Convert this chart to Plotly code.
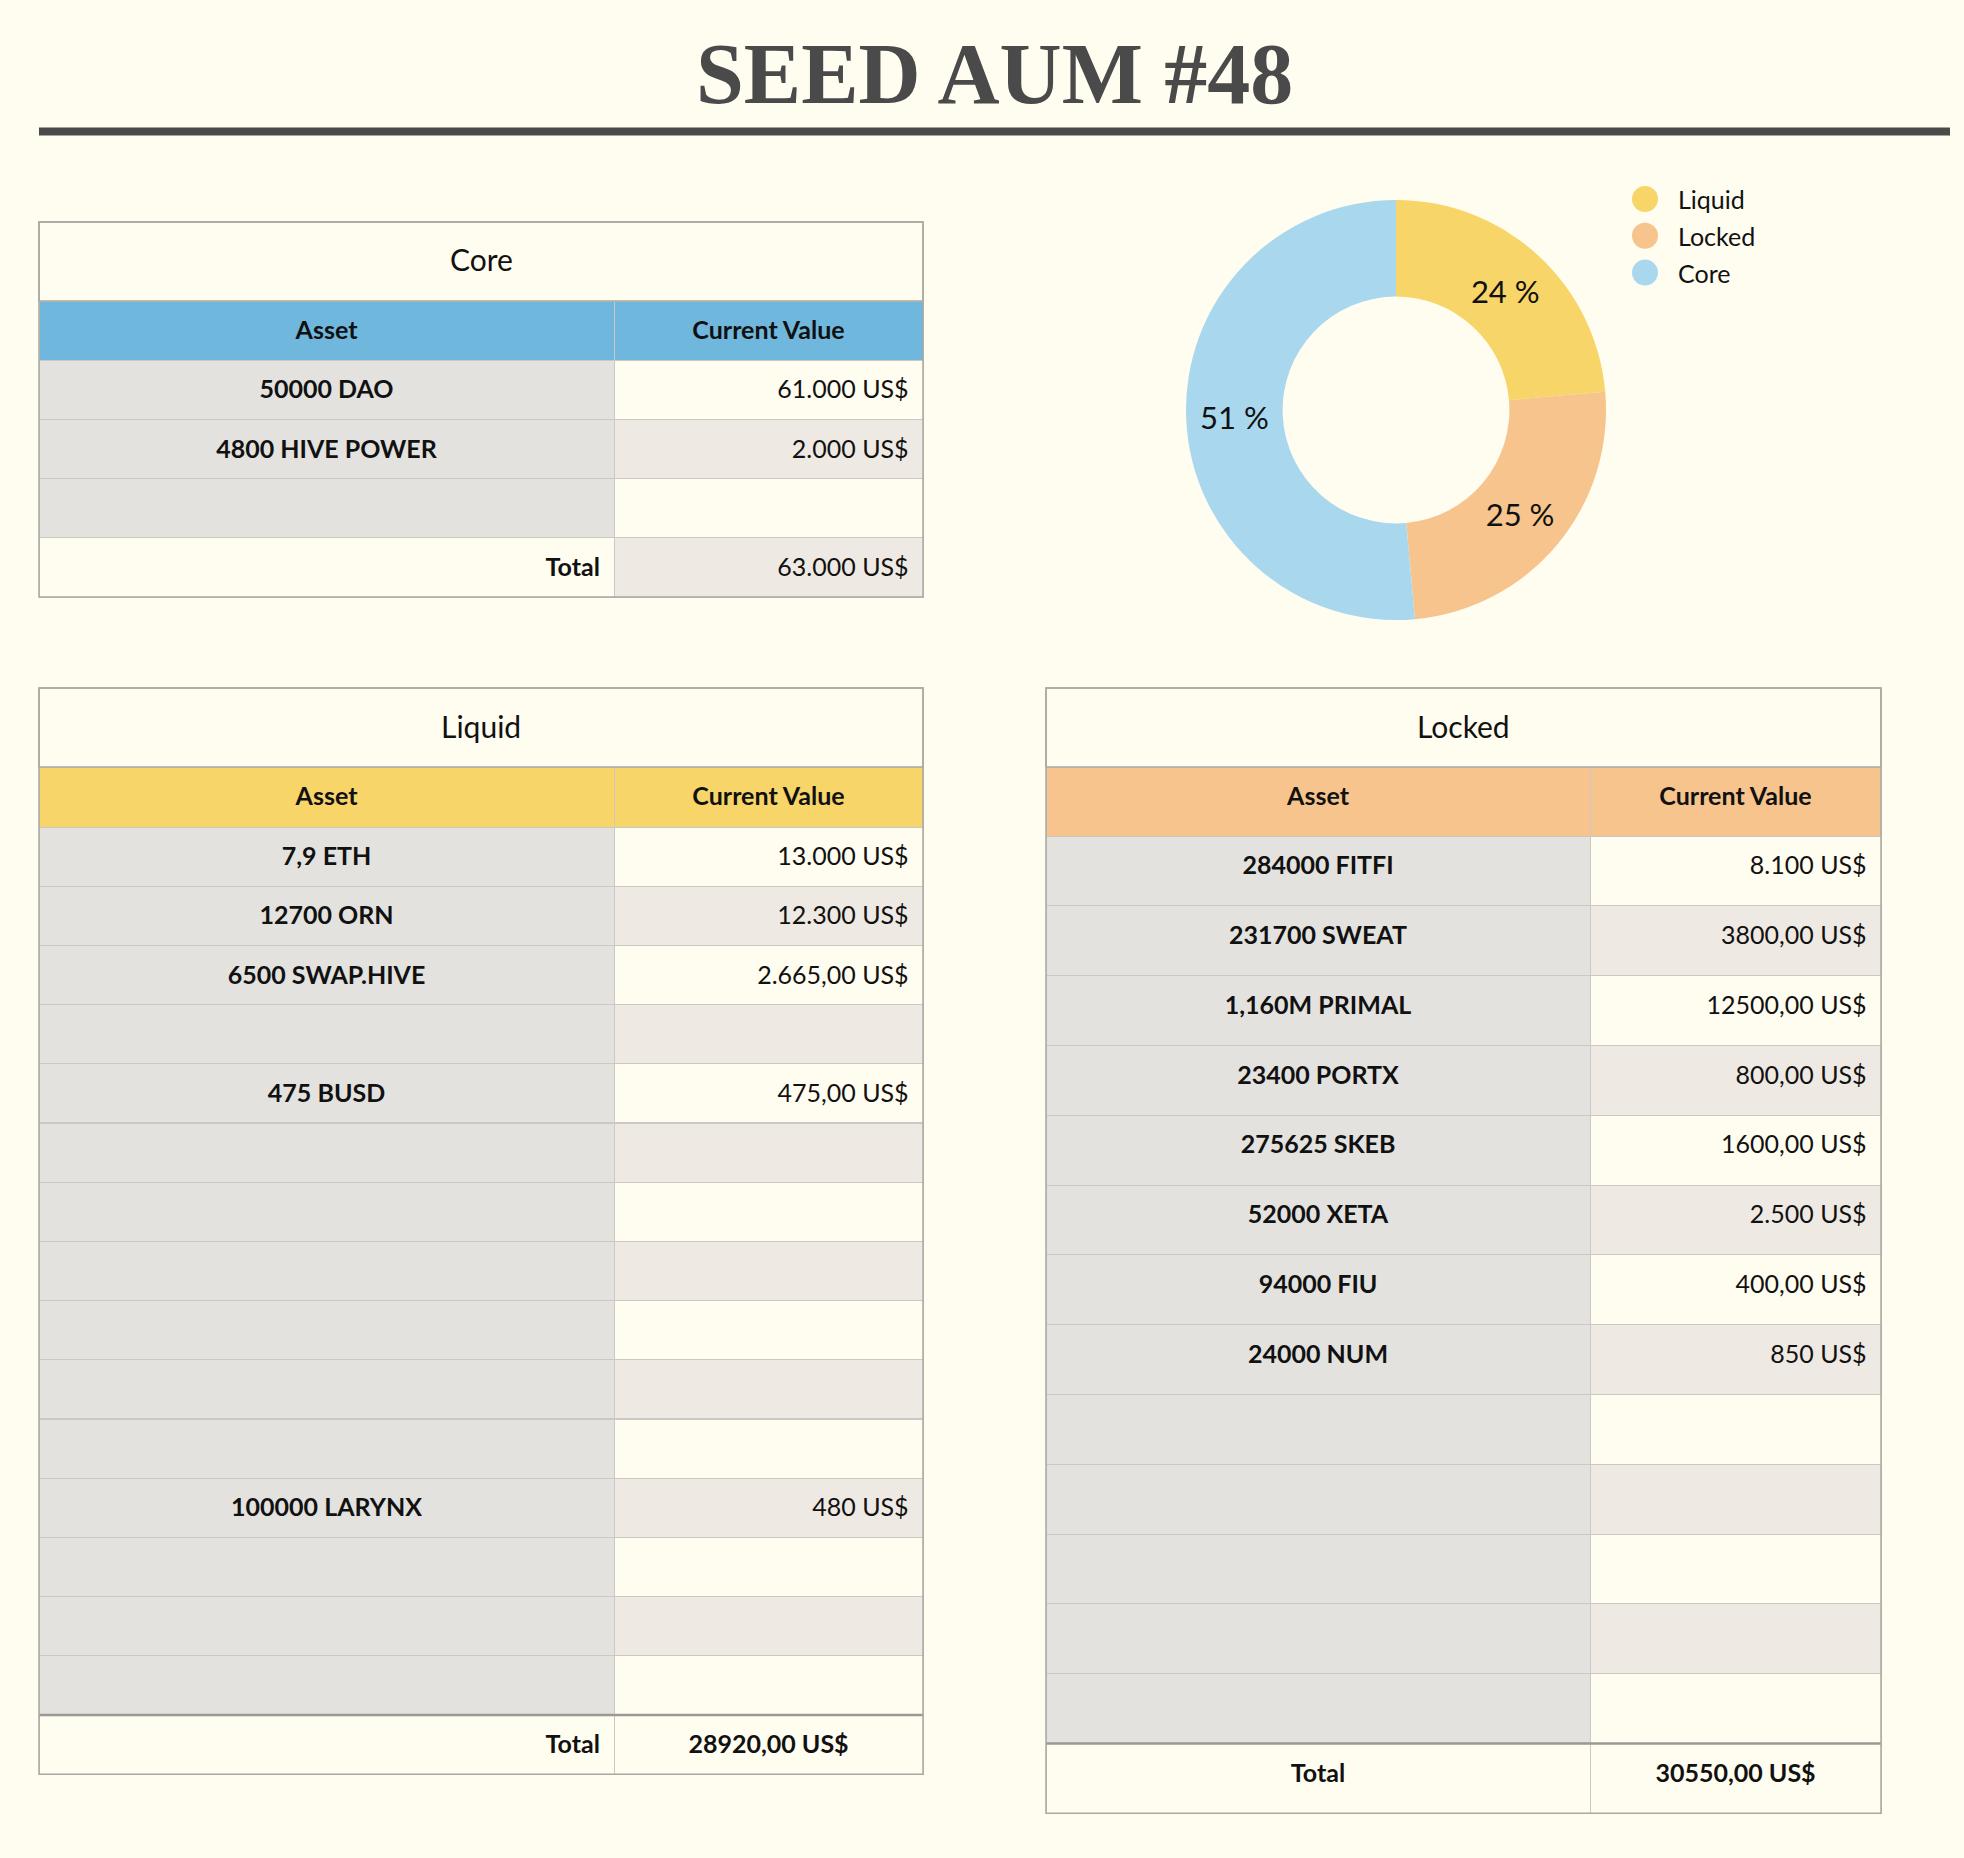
import plotly.graph_objects as go

# ---------------- data ----------------
title_text = "SEED AUM #48"

core_assets = ["50000 DAO", "4800 HIVE POWER", ""]
core_values = ["61.000 US$", "2.000 US$", ""]
core_total = "63.000 US$"

liquid_assets = ["7,9 ETH", "12700 ORN", "6500 SWAP.HIVE", "", "475 BUSD", "", "", "", "",
                 "", "", "100000 LARYNX", "", "", ""]
liquid_values = ["13.000 US$", "12.300 US$", "2.665,00 US$", "", "475,00 US$", "", "", "", "",
                 "", "", "480 US$", "", "", ""]
liquid_total = "28920,00 US$"

locked_assets = ["284000 FITFI", "231700 SWEAT", "1,160M PRIMAL", "23400 PORTX", "275625 SKEB",
                 "52000 XETA", "94000 FIU", "24000 NUM", "", "", "", "", ""]
locked_values = ["8.100 US$", "3800,00 US$", "12500,00 US$", "800,00 US$", "1600,00 US$",
                 "2.500 US$", "400,00 US$", "850 US$", "", "", "", "", ""]
locked_total = "30550,00 US$"

header_labels = ["Asset", "Current Value"]
total_label = "Total"

pie_labels = ["Liquid", "Locked", "Core"]
pie_values = [28920, 30550, 63000]

# ---------------- style ----------------
W, H = 1964, 1858
BG = "#fffcf0"
GREY = "#e3e2df"
BEIGE = "#eee9e3"
LINE = "#cbc9c4"
BORDER = "#a9a8a3"
THICK = "#9a9a94"
DARK = "#4a4a4a"
CLEAR = "rgba(0,0,0,0)"
FONT = "Lato"
CELL_FS = 25
SHIFT = 11.5  # downward nudge of the text layer so text sits centred in its cells

pie_colors = ["#f8d568", "#f6c48c", "#a9d8ee"]


def px(x):
    return x / W


def py(y):
    return 1 - y / H


fig = go.Figure()
shapes = []
annotations = []


def pad(s, align):
    return s + " " if align == "right" and s else s


def add_table(x0, x1, split, y_top, y_header, header_h, row_h, title, head_color,
              assets, values, total_value, total_align0, total_align1, total_bold,
              total_fill1, thick_line):
    n = len(assets)
    bottom = y_header + header_h + row_h * (n + 1)
    w0, w1 = split - x0, x1 - split

    fill0 = [GREY] * n + [BG]
    fill1 = [BG if i % 2 == 0 else BEIGE for i in range(n)] + [total_fill1]

    # background layer (cells, fills, grid lines)
    fig.add_trace(go.Table(
        domain=dict(x=[px(x0), px(x1)], y=[py(bottom + 4), py(y_header)]),
        columnwidth=[w0, w1],
        header=dict(values=["", ""], fill_color=head_color, height=header_h,
                    line=dict(color=LINE, width=1)),
        cells=dict(values=[[""] * (n + 1), [""] * (n + 1)], fill_color=[fill0, fill1],
                   height=row_h, line=dict(color=LINE, width=1)),
    ))

    # text layer for header + data rows
    col1 = [pad(v, "right") for v in values]
    fig.add_trace(go.Table(
        domain=dict(x=[px(x0), px(x1)],
                    y=[py(y_header + header_h + row_h * n + SHIFT + 4), py(y_header + SHIFT)]),
        columnwidth=[w0, w1],
        header=dict(values=header_labels,
                    fill_color=CLEAR, height=header_h, line=dict(color=CLEAR, width=0),
                    align="center",
                    font=dict(family=FONT, size=CELL_FS, color="#111", weight=700)),
        cells=dict(values=[assets, col1], fill_color=CLEAR, height=row_h,
                   line=dict(color=CLEAR, width=0), align=["center", "right"],
                   font=dict(family=FONT, size=CELL_FS, color="#111", weight=[700, 400])),
    ))
    # text layer for the total row (rendered as a header row)
    ytot = y_header + header_h + row_h * n
    fig.add_trace(go.Table(
        domain=dict(x=[px(x0), px(x1)], y=[py(ytot + row_h + SHIFT + 4), py(ytot + SHIFT)]),
        columnwidth=[w0, w1],
        header=dict(values=[pad(total_label, total_align0), pad(total_value, total_align1)],
                    fill_color=CLEAR, height=row_h, line=dict(color=CLEAR, width=0),
                    align=[total_align0, total_align1],
                    font=dict(family=FONT, size=CELL_FS, color="#111",
                              weight=[700, 700 if total_bold else 400])),
        cells=dict(values=[[""], [""]], fill_color=CLEAR, height=1,
                   line=dict(color=CLEAR, width=0)),
    ))

    # title row
    shapes.append(dict(type="rect", xref="paper", yref="paper", x0=px(x0), x1=px(x1),
                       y0=py(y_header), y1=py(y_top), fillcolor=BG,
                       line=dict(color=BORDER, width=1.5), layer="above"))
    annotations.append(dict(text=title, xref="paper", yref="paper", x=px((x0 + x1) / 2),
                            y=py((y_top + y_header) / 2 - 2), xanchor="center",
                            yanchor="middle", showarrow=False,
                            font=dict(family=FONT, size=30, color="#111")))
    if thick_line:
        yl = bottom - row_h
        shapes.append(dict(type="line", xref="paper", yref="paper", x0=px(x0), x1=px(x1),
                           y0=py(yl), y1=py(yl), line=dict(color=THICK, width=2.5),
                           layer="above"))
    # outer border
    shapes.append(dict(type="rect", xref="paper", yref="paper", x0=px(x0), x1=px(x1),
                       y0=py(bottom), y1=py(y_top), line=dict(color=BORDER, width=1.5),
                       fillcolor=CLEAR, layer="above"))


add_table(39, 923, 614, 222, 301, 59, 59.25, "Core", "#6fb7dc",
          core_assets, core_values, core_total, "right", "right", False, BEIGE, False)
add_table(39, 923, 614, 688, 767, 60, 59.2, "Liquid", "#f8d568",
          liquid_assets, liquid_values, liquid_total, "right", "center", True, BG, True)
add_table(1046, 1881, 1590, 688, 767, 69, 69.8, "Locked", "#f6c48c",
          locked_assets, locked_values, locked_total, "center", "center", True, BG, True)

# ---------------- donut ----------------
tot = sum(pie_values)
pct_text = [f"{round(v / tot * 100)} %" for v in pie_values]
fig.add_trace(go.Pie(
    labels=pie_labels, values=pie_values, text=pct_text, textinfo="text",
    textposition="inside", insidetextorientation="horizontal",
    textfont=dict(family=FONT, size=31, color="#111"),
    hole=0.54, sort=False, direction="clockwise", rotation=0,
    marker=dict(colors=pie_colors, line=dict(width=0)),
    domain=dict(x=[px(1186), px(1606)], y=[py(620), py(200)]),
    showlegend=False,
))

# legend (circle markers)
for i, (lab, col) in enumerate(zip(pie_labels, pie_colors)):
    cy = 199 + 36.8 * i
    shapes.append(dict(type="circle", xref="paper", yref="paper",
                       x0=px(1645 - 13), x1=px(1645 + 13), y0=py(cy + 13), y1=py(cy - 13),
                       fillcolor=col, line=dict(width=0)))
    annotations.append(dict(text=lab, xref="paper", yref="paper", x=px(1676), y=py(cy),
                            xanchor="left", yanchor="middle", showarrow=False,
                            font=dict(family=FONT, size=25, color="#111")))

# ---------------- title ----------------
annotations.append(dict(text=f"<b>{title_text}</b>", xref="paper", yref="paper",
                        x=px(994), y=py(74), xanchor="center", yanchor="middle",
                        showarrow=False,
                        font=dict(family="Liberation Serif", size=86, color=DARK)))
shapes.append(dict(type="line", xref="paper", yref="paper", x0=px(39), x1=px(1950),
                   y0=py(131.5), y1=py(131.5), line=dict(color=DARK, width=8)))

fig.update_layout(
    width=W, height=H, autosize=False,
    margin=dict(l=0, r=0, t=0, b=0),
    paper_bgcolor=BG, plot_bgcolor=BG,
    shapes=shapes, annotations=annotations,
)

fig.write_html("out.html", config={"displayModeBar": False},
               post_script="document.body.style.margin='0px';"
                           "document.body.style.background='" + BG + "';")
